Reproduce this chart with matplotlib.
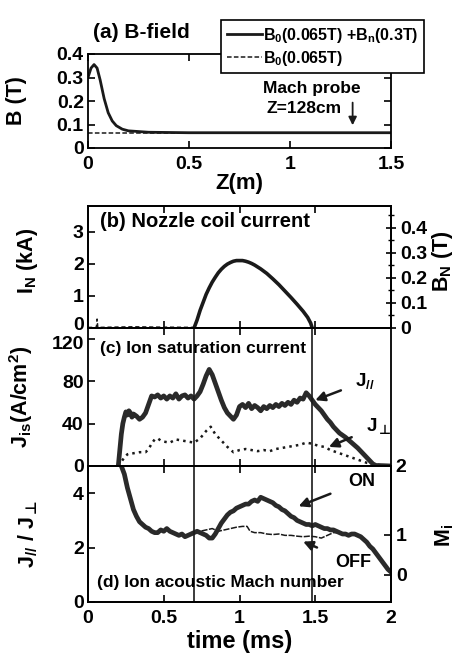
import matplotlib
matplotlib.use('Agg')
import matplotlib.pyplot as plt
from matplotlib.transforms import ScaledTranslation

plt.rcParams['font.family'] = ['Liberation Sans', 'DejaVu Sans']
plt.rcParams['font.weight'] = 'bold'
plt.rcParams['axes.labelweight'] = 'bold'
plt.rcParams['mathtext.fontset'] = 'custom'
plt.rcParams['mathtext.rm'] = 'Liberation Sans:bold'
plt.rcParams['mathtext.it'] = 'Liberation Sans:bold'
plt.rcParams['mathtext.bf'] = 'Liberation Sans:bold'
plt.rcParams['mathtext.sf'] = 'DejaVu Sans:bold'   # has the up-tack sign
plt.rcParams['mathtext.fallback'] = 'stixsans'
plt.rcParams['mathtext.default'] = 'rm'

# (a) B-field along the axis
z_pos = [0, 0.015, 0.03, 0.045, 0.06, 0.08, 0.10, 0.12, 0.14, 0.17, 0.20, 0.30, 0.50, 1.0, 1.5]
b_total = [0.30, 0.34, 0.355, 0.34, 0.29, 0.21, 0.15, 0.115, 0.095, 0.08, 0.073, 0.067, 0.065, 0.065, 0.065]
z_base = [0, 1.5]
b_base = [0.065, 0.065]
probe_z = 1.31

# (b) nozzle coil current
t_noise = [0, 0.055, 0.06, 0.065, 0.07, 0.3, 0.45, 0.7]
in_noise = [0.02, 0.02, 0.28, 0.02, 0.02, 0.04, 0.03, 0.02]
t_coil = [0.70, 0.72, 0.74, 0.76, 0.78, 0.80, 0.82, 0.84, 0.86, 0.88, 0.90, 0.92, 0.94,
          0.96, 0.98, 1.00, 1.02, 1.04, 1.06, 1.08, 1.10, 1.14, 1.18, 1.22, 1.26, 1.30,
          1.34, 1.38, 1.42, 1.45, 1.47, 1.48]
i_coil = [0, 0.25, 0.55, 0.8, 1.05, 1.25, 1.43, 1.58, 1.72, 1.83, 1.92, 1.99, 2.04,
          2.08, 2.1, 2.1, 2.1, 2.08, 2.05, 2.01, 1.96, 1.84, 1.7, 1.53, 1.35, 1.15,
          0.95, 0.74, 0.52, 0.33, 0.15, 0.0]

# (c) ion saturation current
t_par = [0.20, 0.21, 0.22, 0.23, 0.24, 0.25, 0.26, 0.27, 0.28, 0.29, 0.30, 0.32, 0.34,
         0.36, 0.38, 0.40, 0.42, 0.44, 0.46, 0.48, 0.50, 0.52, 0.54, 0.56, 0.58, 0.60,
         0.62, 0.64, 0.66, 0.68, 0.70, 0.72, 0.74, 0.76, 0.78, 0.80, 0.82, 0.84, 0.86,
         0.88, 0.90, 0.92, 0.94, 0.96, 0.98, 1.00, 1.02, 1.04, 1.06, 1.08, 1.10, 1.12,
         1.14, 1.16, 1.18, 1.20, 1.22, 1.24, 1.26, 1.28, 1.30, 1.32, 1.34, 1.36, 1.38,
         1.40, 1.42, 1.44, 1.46, 1.48, 1.50, 1.52, 1.54, 1.56, 1.58, 1.60, 1.62, 1.64,
         1.66, 1.68, 1.70, 1.74, 1.78, 1.82, 1.86, 1.88, 1.90, 1.95, 2.0]
j_par = [0, 15, 30, 40, 46, 51, 48, 52, 50, 46, 49, 47, 44,
         46, 50, 58, 66, 65, 67, 64, 66, 63, 66, 64, 68, 63,
         66, 67, 64, 66, 63, 66, 70, 77, 85, 91, 86, 78, 70,
         62, 55, 50, 47, 44, 48, 56, 58, 55, 59, 54, 57, 55,
         52, 56, 54, 57, 55, 58, 56, 59, 57, 60, 58, 62, 60,
         64, 63, 69, 66, 62, 58, 55, 52, 48, 44, 41, 37, 34,
         31, 29, 27, 22, 17, 11, 5, 2, 0.5, 0.3, 0]
t_perp = [0.20, 0.22, 0.24, 0.26, 0.28, 0.30, 0.34, 0.38, 0.40, 0.42, 0.44, 0.46, 0.48,
          0.50, 0.54, 0.58, 0.62, 0.66, 0.70, 0.74, 0.78, 0.81, 0.84, 0.88, 0.92, 0.96,
          1.00, 1.04, 1.08, 1.12, 1.16, 1.20, 1.24, 1.28, 1.32, 1.36, 1.40, 1.44, 1.48,
          1.52, 1.56, 1.60, 1.64, 1.68, 1.72, 1.76, 1.80, 1.84, 1.88, 1.92, 1.96, 2.0]
j_perp = [0, 4, 8, 11, 12, 12, 13, 13, 16, 21, 25, 26, 24,
          23, 22, 25, 24, 23, 22, 26, 33, 37, 30, 24, 18, 13,
          15, 16, 15, 14, 15, 14, 16, 17, 18, 19, 20, 22, 21,
          19, 18, 15, 13, 11, 9, 7, 5, 3, 2, 1, 0.5, 0]

# (d) J_par / J_perp with nozzle ON and OFF
t_on = [0.22, 0.24, 0.26, 0.28, 0.30, 0.32, 0.34, 0.36, 0.38, 0.40, 0.42, 0.44, 0.46,
        0.48, 0.50, 0.52, 0.54, 0.56, 0.58, 0.60, 0.62, 0.64, 0.66, 0.68, 0.70, 0.72,
        0.74, 0.76, 0.78, 0.80, 0.82, 0.84, 0.86, 0.88, 0.90, 0.92, 0.94, 0.96, 0.98,
        1.00, 1.02, 1.04, 1.06, 1.08, 1.10, 1.12, 1.14, 1.16, 1.18, 1.20, 1.22, 1.24,
        1.26, 1.28, 1.30, 1.32, 1.34, 1.36, 1.38, 1.40, 1.42, 1.44, 1.46, 1.48, 1.50,
        1.52, 1.54, 1.56, 1.58, 1.60, 1.62, 1.64, 1.66, 1.68, 1.70, 1.72, 1.74, 1.76,
        1.78, 1.80, 1.82, 1.84, 1.86, 1.88, 1.90, 1.92, 1.94, 1.96, 1.98, 2.0]
ratio_on = [5.0, 4.7, 4.2, 3.8, 3.4, 3.15, 2.95, 2.85, 2.75, 2.7, 2.6, 2.55, 2.55,
            2.65, 2.6, 2.7, 2.6, 2.55, 2.5, 2.45, 2.5, 2.4, 2.45, 2.5, 2.55, 2.6,
            2.55, 2.5, 2.45, 2.35, 2.35, 2.5, 2.7, 2.9, 3.05, 3.2, 3.3, 3.35, 3.45,
            3.5, 3.55, 3.6, 3.6, 3.7, 3.75, 3.7, 3.85, 3.8, 3.75, 3.7, 3.65, 3.55,
            3.5, 3.4, 3.35, 3.25, 3.15, 3.1, 3.0, 2.95, 2.9, 2.85, 2.85, 2.8, 2.85,
            2.8, 2.75, 2.7, 2.7, 2.65, 2.65, 2.6, 2.55, 2.5, 2.5, 2.45, 2.5, 2.5,
            2.45, 2.4, 2.3, 2.2, 2.05, 1.95, 1.8, 1.65, 1.5, 1.35, 1.2, 1.1]
t_off = [0.70, 0.74, 0.78, 0.82, 0.86, 0.90, 0.94, 0.98, 1.02, 1.05, 1.07, 1.10, 1.14,
         1.18, 1.22, 1.26, 1.30, 1.34, 1.38, 1.42, 1.46, 1.50, 1.54, 1.58, 1.62, 1.66]
ratio_off = [2.55, 2.6, 2.65, 2.7, 2.6, 2.65, 2.7, 2.75, 2.78, 2.78, 2.6, 2.55, 2.55,
             2.5, 2.48, 2.5, 2.45, 2.45, 2.42, 2.4, 2.42, 2.4, 2.35, 2.45, 2.55, 2.55]
mach_tick_ratio = [1.0, 2.48, 5.0]
mach_tick_labels = ['0', '1', '2']
marker_times = [0.7, 1.48]

W, H = 458, 653
fig = plt.figure(figsize=(W / 100, H / 100), dpi=100)


def box(top, bottom, left=88, right=391):
    return [left / W, 1 - bottom / H, (right - left) / W, (bottom - top) / H]


def nudge(label, dy_px):
    label.set_transform(label.get_transform()
                        + ScaledTranslation(0, dy_px / 100, fig.dpi_scale_trans))


ax_a = fig.add_axes(box(54, 148))
ax_b = fig.add_axes(box(206, 328))
ax_c = fig.add_axes(box(328, 466))
ax_d = fig.add_axes(box(466, 602))

TICK = 14
LAB = 15.5
for ax in (ax_a, ax_b, ax_c, ax_d):
    for s in ax.spines.values():
        s.set_linewidth(1.3)
    ax.tick_params(direction='in', top=True, right=True, length=5, width=1.2,
                   labelsize=TICK, pad=3)

ink = '#1a1a1a'
PERP = '$_{\\mathsf{\\bot}}$'

# ---- (a)
ax_a.plot(z_base, b_base, '--', color=ink, lw=1.1, dashes=(3, 1.5),
          label='B$_0$(0.065T)')
ax_a.plot(z_pos, b_total, '-', color=ink, lw=2.0,
          label='B$_0$(0.065T) +B$_n$(0.3T)')
ax_a.set_xlim(0, 1.5)
ax_a.set_ylim(0, 0.4)
ax_a.set_xticks([0, 0.5, 1, 1.5])
ax_a.set_xticklabels(['0', '0.5', '1', '1.5'])
ax_a.set_yticks([0, 0.1, 0.2, 0.3, 0.4])
ax_a.set_yticklabels(['0', '0.1', '0.2', '0.3', '0.4'])
ax_a.tick_params(axis='x', pad=6)
ax_a.set_xlabel('Z(m)', fontsize=16, labelpad=0)
ax_a.set_ylabel('B (T)', fontsize=LAB)
ax_a.yaxis.set_label_coords(-0.2, 0.5)
ax_a.text(1.11, 0.255, 'Mach probe', ha='center', va='center', fontsize=12.5)
ax_a.text(1.07, 0.17, 'Z=128cm', ha='center', va='center', fontsize=12.5)
ax_a.annotate('', xy=(probe_z, 0.085), xytext=(probe_z, 0.205),
              arrowprops=dict(arrowstyle='-|>', color=ink, lw=1.3, mutation_scale=12))
fig.text(93 / W, 1 - 33 / H, '(a) B-field', ha='left', va='center', fontsize=15)
handles, labels = ax_a.get_legend_handles_labels()
leg = fig.legend(handles[::-1], labels[::-1], loc='upper left',
                 bbox_to_anchor=(213 / W, 1 - 12 / H), fontsize=11.5,
                 handlelength=2.2, handletextpad=0.1, borderpad=0.35,
                 labelspacing=0.25, fancybox=False, framealpha=1,
                 edgecolor='black')
leg.get_frame().set_linewidth(1.2)

# ---- (b)
ax_b.plot(t_noise, in_noise, '--', color=ink, lw=1.0, dashes=(3, 2))
ax_b.plot(t_coil, i_coil, '-', color=ink, lw=2.6)
ax_b.set_xlim(0, 2)
ax_b.set_ylim(0, 3.8)
ax_b.set_yticks([0, 1, 2, 3])
ax_b.set_yticklabels(['0', '1', '2', '3'])
ax_b.set_xticks([0.5, 1, 1.5])
ax_b.tick_params(labelbottom=False, right=False)
nudge(ax_b.get_yticklabels()[0], 4)
ax_b.set_ylabel('I$_N$ (kA)', fontsize=LAB)
ax_b.yaxis.set_label_coords(-0.16, 0.55)
ax_b.text(0.04, 0.87, '(b) Nozzle coil current', transform=ax_b.transAxes,
          ha='left', va='center', fontsize=14.5)
ax_b2 = ax_b.twinx()
ax_b2.set_ylim(0, 0.487)
ax_b2.set_yticks([0, 0.1, 0.2, 0.3, 0.4])
ax_b2.set_yticklabels(['0', '0.1', '0.2', '0.3', '0.4'])
ax_b2.set_yticks([0.05, 0.15, 0.25, 0.35, 0.45], minor=True)
ax_b2.tick_params(axis='y', direction='inout', length=7, width=1.2, labelsize=TICK)
ax_b2.tick_params(axis='y', which='minor', direction='inout', length=4, width=1.0)
ax_b2.set_ylabel('B$_N$ (T)', fontsize=LAB)
ax_b2.yaxis.set_label_coords(1.13, 0.55)
for s in ax_b2.spines.values():
    s.set_linewidth(1.3)

# ---- (c)
ax_c.plot(t_perp, j_perp, ':', color=ink, lw=1.8)
ax_c.plot(t_par, j_par, '-', color='#2a2a2a', lw=3.4)
for t in marker_times:
    ax_c.axvline(t, color=ink, lw=1.2)
ax_c.set_xlim(0, 2)
ax_c.set_ylim(0, 130)
ax_c.set_yticks([0, 40, 80, 120])
ax_c.set_yticklabels(['0', '40', '80', '120'])
ax_c.set_xticks([0.5, 1, 1.5])
ax_c.tick_params(labelbottom=False, right=False)
nudge(ax_c.get_yticklabels()[-1], -4)
ax_c.set_ylabel('J$_{is}$(A/cm$^2$)', fontsize=LAB)
ax_c.yaxis.set_label_coords(-0.175, 0.5)
ax_c.text(0.04, 0.855, '(c) Ion saturation current', transform=ax_c.transAxes,
          ha='left', va='center', fontsize=12.5)
arrow = dict(arrowstyle='-|>', color=ink, lw=1.8, mutation_scale=14)
ax_c.annotate('J$_{//}$', xy=(1.50, 62), xytext=(1.83, 80), fontsize=13.5,
              ha='center', va='center',
              arrowprops=dict(arrow, shrinkA=9, shrinkB=0))
ax_c.annotate('J' + PERP, xy=(1.59, 18), xytext=(1.92, 38), fontsize=13.5,
              ha='center', va='center',
              arrowprops=dict(arrow, shrinkA=9, shrinkB=0))

# ---- (d)
ax_d.plot(t_off, ratio_off, '-', color=ink, lw=1.1, dashes=(4, 1))
ax_d.plot(t_on, ratio_on, '-', color='#2a2a2a', lw=3.4)
for t in marker_times:
    ax_d.axvline(t, color=ink, lw=1.2)
ax_d.set_xlim(0, 2)
ax_d.set_ylim(0, 5)
ax_d.set_yticks([0, 2, 4])
ax_d.set_yticklabels(['0', '2', '4'])
ax_d.set_xticks([0, 0.5, 1, 1.5, 2])
ax_d.set_xticklabels(['0', '0.5', '1', '1.5', '2'])
ax_d.tick_params(right=False)
ax_d.tick_params(axis='x', pad=6)
ax_d.set_xlabel('time (ms)', fontsize=17, labelpad=2)
ax_d.set_ylabel('J$_{//}$ / J' + PERP, fontsize=LAB)
ax_d.yaxis.set_label_coords(-0.16, 0.5)
ax_d.text(0.03, 0.14, '(d) Ion acoustic Mach number', transform=ax_d.transAxes,
          ha='left', va='center', fontsize=12.5)
ax_d.annotate('ON', xy=(1.39, 3.52), xytext=(1.81, 4.44), fontsize=13,
              ha='center', va='center',
              arrowprops=dict(arrow, shrinkA=12, shrinkB=0))
ax_d.annotate('OFF', xy=(1.42, 2.22), xytext=(1.75, 1.44), fontsize=13,
              ha='center', va='center',
              arrowprops=dict(arrow, shrinkA=12, shrinkB=0))
ax_d2 = ax_d.twinx()
ax_d2.set_ylim(0, 5)
ax_d2.set_yticks(mach_tick_ratio)
ax_d2.set_yticklabels(mach_tick_labels)
ax_d2.tick_params(axis='y', direction='in', length=5, width=1.2, labelsize=TICK)
ax_d2.set_ylabel('M$_i$', fontsize=LAB)
ax_d2.yaxis.set_label_coords(1.14, 0.49)
for s in ax_d2.spines.values():
    s.set_linewidth(1.3)

fig.savefig('out.png', dpi=100)
